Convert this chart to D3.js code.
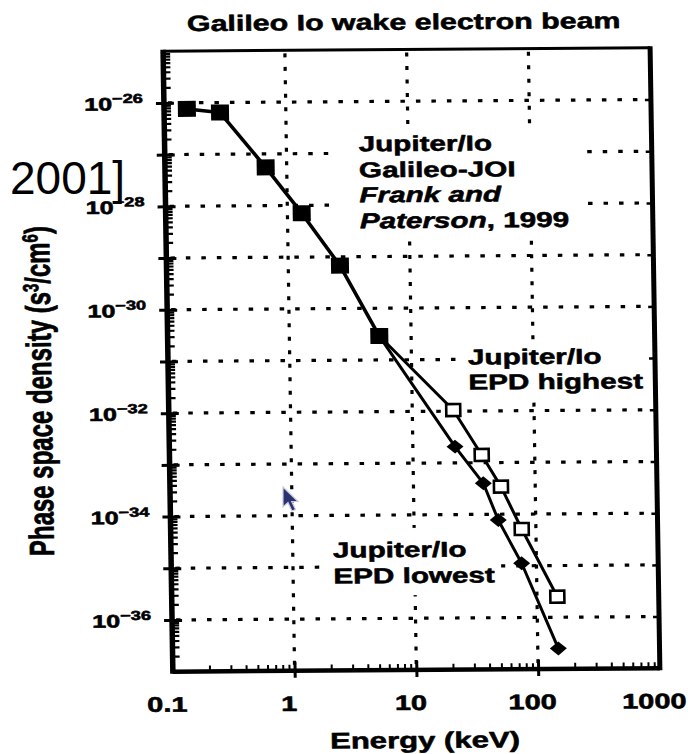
<!DOCTYPE html>
<html>
<head>
<meta charset="utf-8">
<script src="https://cdn.jsdelivr.net/npm/d3@7"></script>
<style>
  html, body { margin: 0; padding: 0; background: #fff; }
  svg { display: block; }
  text { font-family: "Liberation Sans", Arial, Helvetica, sans-serif; font-weight: bold; fill: #000; }
  text.heavy { stroke: #000; stroke-width: 0.55; stroke-linejoin: round; }
</style>
</head>
<body>
<svg id="chart" width="688" height="754"></svg>
<script>
// Galileo Io wake electron beam: phase space density vs energy

// Galileo-JOI plasma spectrum (Frank and Paterson, 1999)
const fpEnergy  = [0.154, 0.288, 0.672, 1.31, 2.66, 5.48];          // keV
const fpDensity = [7.6e-27, 6.4e-27, 5.5e-28, 7.05e-29, 6.75e-30, 2.9e-31]; // s^3/cm^6

// EPD highest
const epdHighEnergy  = [21.7, 36.7, 52.3, 76.5, 147];
const epdHighDensity = [1.05e-32, 1.41e-33, 3.42e-34, 5.15e-35, 2.5e-36];

// EPD lowest
const epdLowEnergy  = [22.2, 37.5, 49.2, 75.6, 147.5];
const epdLowDensity = [2.06e-33, 3.99e-34, 7.75e-35, 1.12e-35, 2.5e-37];

// axes
const xTickValues = [0.1, 1, 10, 100, 1000];
const xTickLabels = ["0.1", "1", "10", "100", "1000"];
const xGridValues = [1, 10, 100];
const yDecades = [1e-25, 1e-26, 1e-27, 1e-28, 1e-29, 1e-30, 1e-31, 1e-32, 1e-33, 1e-34, 1e-35, 1e-36, 1e-37];
const yGridValues = [1e-26, 1e-27, 1e-28, 1e-29, 1e-30, 1e-31, 1e-32, 1e-33, 1e-34, 1e-35, 1e-36];
const yLabelValues = [1e-26, 1e-28, 1e-30, 1e-32, 1e-34, 1e-36];
const yLabelExponents = ["\u221226", "\u221228", "\u221230", "\u221232", "\u221234", "\u221236"];
const minorMultipliers = [2, 3, 4, 5, 6, 7, 8, 9];

const K = 1.38; // wide lettering

const svg = d3.select("#chart");
const root = svg.append("g")
  .attr("transform", "translate(410,361) rotate(-0.4) skewX(0.5) translate(-410,-361)");

const x = d3.scaleLog().domain([0.1, 1000]).range([168, 655]);
const y = d3.scaleLog().domain([1e-37, 1e-25]).range([670, 49.5]);

const x0 = x.range()[0], x1 = x.range()[1];
const yTop = y.range()[1], yBot = y.range()[0];

// minor tick positions per decade
const minorX = [], minorY = [];
xTickValues.slice(0, -1).forEach(d => minorMultipliers.forEach(m => minorX.push(d * m)));
yDecades.slice(1).forEach(d => minorMultipliers.forEach(m => minorY.push(d * m)));

// ---- dotted grid ----
const grid = root.append("g").attr("stroke", "#000").attr("fill", "none");
grid.selectAll("line.h").data(yGridValues).join("line")
  .attr("class", "h")
  .attr("x1", x0 + 4).attr("x2", x1 - 3)
  .attr("y1", d => y(d)).attr("y2", d => y(d))
  .attr("stroke-width", 3.2)
  .attr("stroke-dasharray", "4.5 11");
grid.selectAll("line.v").data(xGridValues).join("line")
  .attr("class", "v")
  .attr("x1", d => x(d)).attr("x2", d => x(d))
  .attr("y1", yTop + 3).attr("y2", yBot - 3)
  .attr("stroke-width", 3.2)
  .attr("stroke-dasharray", "4 9.5");

// ---- white backing boxes for annotations (filled in later) ----
const boxLayer = root.append("g");

// ---- frame & axes ----
const frame = root.append("g");
frame.append("line").attr("x1", x0).attr("x2", x1).attr("y1", yTop).attr("y2", yTop)
  .attr("stroke", "#000").attr("stroke-width", 3);
frame.append("line").attr("x1", x1).attr("x2", x1).attr("y1", yTop - 1.5).attr("y2", yBot + 2)
  .attr("stroke", "#000").attr("stroke-width", 5);
frame.append("line").attr("x1", x0).attr("x2", x0).attr("y1", yTop - 1.5).attr("y2", yBot + 2)
  .attr("stroke", "#000").attr("stroke-width", 5.5);
frame.append("line").attr("x1", x0).attr("x2", x1).attr("y1", yBot).attr("y2", yBot)
  .attr("stroke", "#000").attr("stroke-width", 4.5);

function styleAxis(g, w) {
  g.select(".domain").remove();
  g.selectAll("line").attr("stroke", "#000").attr("stroke-width", w);
  g.selectAll("text").remove();
}

// left axis
frame.append("g").attr("transform", `translate(${x0},0)`)
  .call(d3.axisRight(y).tickValues(minorY).tickSize(7).tickFormat("").tickSizeOuter(0))
  .call(g => styleAxis(g, 2.2));
frame.append("g").attr("transform", `translate(${x0},0)`)
  .call(d3.axisLeft(y).tickValues(yDecades.slice(1, -1)).tickSize(8).tickFormat("").tickSizeOuter(0))
  .call(g => styleAxis(g, 3));
frame.append("g").attr("transform", `translate(${x0},0)`)
  .call(d3.axisRight(y).tickValues(yDecades.slice(1, -1)).tickSize(10).tickFormat("").tickSizeOuter(0))
  .call(g => styleAxis(g, 3));

// right frame ticks
frame.append("g").attr("transform", `translate(${x1},0)`)
  .call(d3.axisLeft(y).tickValues(yDecades.slice(1, -1)).tickSize(6).tickFormat("").tickSizeOuter(0))
  .call(g => styleAxis(g, 2.5));

// bottom axis
frame.append("g").attr("transform", `translate(0,${yBot})`)
  .call(d3.axisTop(x).tickValues(minorX).tickSize(6).tickFormat("").tickSizeOuter(0))
  .call(g => styleAxis(g, 2));
frame.append("g").attr("transform", `translate(0,${yBot})`)
  .call(d3.axisBottom(x).tickValues(xTickValues.slice(1, -1)).tickSize(7).tickFormat("").tickSizeOuter(0))
  .call(g => styleAxis(g, 3));
frame.append("g").attr("transform", `translate(0,${yBot})`)
  .call(d3.axisTop(x).tickValues(xTickValues.slice(1, -1)).tickSize(9).tickFormat("").tickSizeOuter(0))
  .call(g => styleAxis(g, 3));

// ---- wide text helper ----
function wideText(parent, px, py, size, anchor, k) {
  const g = parent.append("g").attr("transform", `translate(${px},${py}) scale(${k || K},1)`);
  return g.append("text").attr("class", "heavy")
    .attr("font-size", size).attr("text-anchor", anchor || "start");
}

// x tick labels
xTickValues.forEach((v, i) => {
  wideText(root, x(v) - 6, 710, 21, "middle").text(xTickLabels[i]);
});

// y tick labels: 10^n
yLabelValues.forEach((v, i) => {
  const t = wideText(root, 147, y(v) + 7.2, 18, "end", 1.4);
  t.append("tspan").text("10");
  t.append("tspan").attr("font-size", 13).attr("dy", -7.4).text(yLabelExponents[i]);
});

// title
wideText(root, 409, 29.5, 22, "middle").text("Galileo Io wake electron beam");

// x axis title
wideText(root, 419, 748, 22.5, "middle").text("Energy (keV)");

// y axis title
{
  const g = root.append("g").attr("transform", `translate(51,388.5) scale(1.45,1) rotate(-90)`);
  const t = g.append("text").attr("class", "heavy").attr("font-size", 24).attr("text-anchor", "middle");
  t.append("tspan").text("Phase space density (s");
  t.append("tspan").attr("font-size", 15).attr("dy", -8).text("3");
  t.append("tspan").attr("dy", 8).text("/cm");
  t.append("tspan").attr("font-size", 15).attr("dy", -8).text("6");
  t.append("tspan").attr("dy", 8).text(")");
}

// ---- data lines ----
const line = d3.line().x(d => x(d[0])).y(d => y(d[1]));
const fpPts   = fpEnergy.map((e, i) => [e, fpDensity[i]]);
const highPts = epdHighEnergy.map((e, i) => [e, epdHighDensity[i]]);
const lowPts  = epdLowEnergy.map((e, i) => [e, epdLowDensity[i]]);
const joinPt  = fpPts[fpPts.length - 1];

const marks = root.append("g");
marks.append("path").attr("d", line(fpPts))
  .attr("fill", "none").attr("stroke", "#000").attr("stroke-width", 3.6).attr("stroke-linejoin", "round");
marks.append("path").attr("d", line([joinPt].concat(highPts)))
  .attr("fill", "none").attr("stroke", "#000").attr("stroke-width", 3).attr("stroke-linejoin", "round");
marks.append("path").attr("d", line([joinPt].concat(lowPts)))
  .attr("fill", "none").attr("stroke", "#000").attr("stroke-width", 3).attr("stroke-linejoin", "round");

// filled squares
marks.selectAll("rect.fp").data(fpPts).join("rect")
  .attr("class", "fp")
  .attr("x", d => x(d[0]) - 9).attr("y", d => y(d[1]) - 8)
  .attr("width", 18).attr("height", 16)
  .attr("fill", "#000");

// open squares
marks.selectAll("rect.hi").data(highPts).join("rect")
  .attr("class", "hi")
  .attr("x", d => x(d[0]) - 7).attr("y", d => y(d[1]) - 6)
  .attr("width", 14).attr("height", 12)
  .attr("fill", "#fff").attr("stroke", "#000").attr("stroke-width", 2.6);

// filled diamonds
marks.selectAll("path.lo").data(lowPts).join("path")
  .attr("class", "lo")
  .attr("d", d => {
    const cx = x(d[0]), cy = y(d[1]);
    return `M${cx},${cy - 7}L${cx + 8.5},${cy}L${cx},${cy + 7}L${cx - 8.5},${cy}Z`;
  })
  .attr("fill", "#000");

// ---- annotations with white backing ----
function annotation(px, baselines, lines, pad) {
  const g = root.append("g");
  lines.forEach((parts, i) => {
    const t = wideText(g, px, baselines[i], 21.5, "start");
    parts.forEach(p => {
      const s = t.append("tspan").text(p.t);
      if (p.italic) s.attr("font-style", "italic");
    });
  });
  const b = g.node().getBBox();
  boxLayer.append("rect")
    .attr("x", b.x - pad[0]).attr("y", b.y - pad[1])
    .attr("width", b.width + pad[0] + pad[2]).attr("height", b.height + pad[1] + pad[3])
    .attr("fill", "#fff");
  return g;
}

annotation(362, [151, 177, 202, 228], [
  [{ t: "Jupiter/Io" }],
  [{ t: "Galileo-JOI" }],
  [{ t: "Frank and", italic: true }],
  [{ t: "Paterson", italic: true }, { t: ", 1999" }]
], [20, 1, 12, 2]);

annotation(468, [365, 390], [
  [{ t: "Jupiter/Io" }],
  [{ t: "EPD highest" }]
], [5, 4, 10, 5]);

annotation(330, [557, 583], [
  [{ t: "Jupiter/Io" }],
  [{ t: "EPD lowest" }]
], [6, 10, 6, 8]);

// ---- pointer glyph ----
const defs = svg.append("defs");
defs.append("filter").attr("id", "soft")
  .append("feGaussianBlur").attr("stdDeviation", 0.6);
svg.append("path")
  .attr("d", "M0,0 V20 L5,15.5 L9,24 L12.5,22.5 L8.7,14.5 H15 Z")
  .attr("transform", "translate(283,487)")
  .attr("fill", "#2a3170").attr("stroke", "#c9cbd8").attr("stroke-width", 1.2)
  .attr("filter", "url(#soft)");

// ---- page overlay ----
svg.append("text")
  .attr("x", 10).attr("y", 194)
  .attr("font-size", 46)
  .style("font-weight", "normal")
  .text("2001]");
</script>
</body>
</html>
